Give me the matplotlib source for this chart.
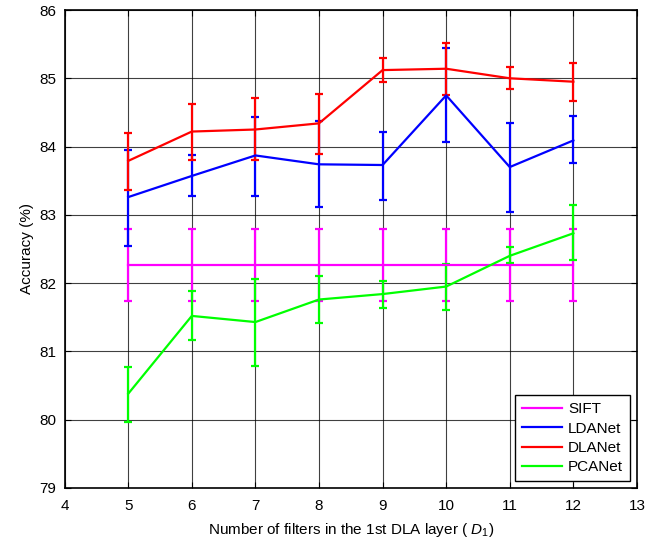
#!/usr/bin/env python3
"""Accuracy vs number of filters in the 1st DLA layer"""

import numpy as np
import matplotlib
matplotlib.use('Agg')
import matplotlib.pyplot as plt

plt.rcParams['font.family'] = ['Liberation Sans', 'DejaVu Sans']
plt.rcParams['mathtext.fontset'] = 'custom'
plt.rcParams['mathtext.rm'] = 'Liberation Sans'
plt.rcParams['mathtext.it'] = 'Liberation Sans:italic'

filters = [5, 6, 7, 8, 9, 10, 11, 12]

sift_mean = [82.27] * 8
sift_lo = [81.74] * 8
sift_hi = [82.80] * 8

lda_mean = [83.26, 83.57, 83.87, 83.74, 83.73, 84.75, 83.70, 84.09]
lda_lo = [82.54, 83.27, 83.28, 83.11, 83.22, 84.06, 83.04, 83.76]
lda_hi = [83.95, 83.87, 84.43, 84.37, 84.22, 85.45, 84.34, 84.45]

dla_mean = [83.79, 84.22, 84.25, 84.34, 85.12, 85.14, 85.00, 84.95]
dla_lo = [83.36, 83.80, 83.80, 83.89, 84.95, 84.76, 84.84, 84.67]
dla_hi = [84.20, 84.62, 84.71, 84.77, 85.30, 85.51, 85.16, 85.23]

pca_mean = [80.38, 81.52, 81.43, 81.76, 81.84, 81.95, 82.40, 82.73]
pca_lo = [79.97, 81.16, 80.78, 81.41, 81.64, 81.61, 82.29, 82.34]
pca_hi = [80.77, 81.88, 82.06, 82.11, 82.03, 82.28, 82.53, 83.14]

series = [
    ('SIFT', sift_mean, sift_lo, sift_hi, '#ff00ff'),
    ('LDANet', lda_mean, lda_lo, lda_hi, '#0000ff'),
    ('DLANet', dla_mean, dla_lo, dla_hi, '#ff0000'),
    ('PCANet', pca_mean, pca_lo, pca_hi, '#00ff00'),
]

fig = plt.figure(figsize=(6.46, 5.41), dpi=100)
ax = fig.add_axes([0.1, 0.098, 0.886, 0.8835])

for name, m, lo, hi, c in series:
    m = np.array(m)
    err = [m - np.array(lo), np.array(hi) - m]
    ax.errorbar(filters, m, yerr=err, color=c, lw=1.6, elinewidth=1.6,
                capsize=3.2, capthick=1.6, label=name)

ax.set_xlim(4, 13)
ax.set_ylim(79, 86)
ax.set_xticks(range(4, 14))
ax.set_yticks(range(79, 87))
ax.grid(True, color='black', lw=0.8, alpha=0.75)
ax.set_axisbelow(True)
ax.tick_params(direction='in', top=True, right=True, labelsize=11, length=4)
ax.tick_params(axis='x', pad=8)
ax.tick_params(axis='y', pad=6)
for s in ax.spines.values():
    s.set_linewidth(1.2)

ax.set_xlabel(r'Number of filters in the 1st DLA layer ( $\mathit{D}_1$)', fontsize=11,
              labelpad=6)
ax.set_ylabel('Accuracy (%)', fontsize=11)

handles, labels = ax.get_legend_handles_labels()
handles = [h[0] for h in handles]
leg = ax.legend(handles, labels, loc='lower right', fontsize=11, fancybox=False,
                edgecolor='black', framealpha=1, handlelength=2.6,
                handletextpad=0.4, borderpad=0.45,
                borderaxespad=0.45, labelspacing=0.35)
leg.get_frame().set_linewidth(1.0)

fig.savefig('out.png', dpi=100)
